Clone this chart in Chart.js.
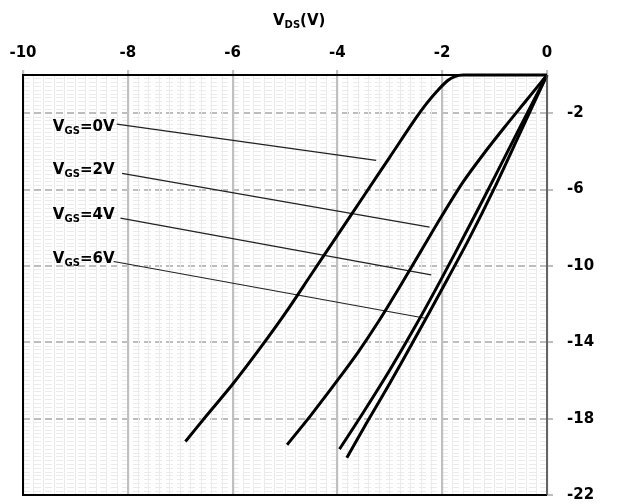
<!DOCTYPE html>
<html>
<head>
<meta charset="utf-8">
<script src="https://cdn.jsdelivr.net/npm/chart.js@4.4.0/dist/chart.umd.min.js"></script>
<style>
  html, body { margin: 0; padding: 0; background: #fff; }
  #wrap { width: 617px; height: 504px; position: relative; }
</style>
</head>
<body>
<div id="wrap"><canvas id="myChart"></canvas></div>
<script>
// curves (VDS, ID)
var vgs0_x = [0, -1.6, -1.75, -1.9, -2.1, -2.3, -2.5, -3.0, -3.5, -4.0, -4.5, -5.0, -5.5, -6.0, -6.5, -6.9];
var vgs0_y = [0, 0, -0.07, -0.3, -0.85, -1.5, -2.25, -4.3, -6.35, -8.4, -10.45, -12.5, -14.4, -16.2, -17.85, -19.2];

var vgs2_x = [0, -0.4, -0.8, -1.2, -1.6, -2.0, -2.4, -2.8, -3.2, -3.6, -4.0, -4.5, -4.96];
var vgs2_y = [0, -1.35, -2.7, -4.1, -5.6, -7.35, -9.2, -11.05, -12.85, -14.5, -16.0, -17.8, -19.37];

var vgs4_x = [0, -0.5, -1.0, -1.5, -2.0, -2.5, -3.0, -3.5, -3.96];
var vgs4_y = [0, -2.65, -5.35, -8.0, -10.6, -13.1, -15.45, -17.65, -19.6];

var vgs6_x = [0, -0.5, -1.0, -1.5, -2.0, -2.5, -3.0, -3.5, -3.82];
var vgs6_y = [0, -2.95, -5.9, -8.65, -11.2, -13.7, -16.15, -18.5, -20.05];

// labels and their leader lines
var labelVals = ['0', '2', '4', '6'];
var labelX = -9.43;
var labelY = [-2.67, -4.92, -7.28, -9.56];
var leaderX0 = [-8.21, -8.11, -8.14, -8.27];
var leaderY0 = [-2.57, -5.15, -7.50, -9.77];
var leaderX1 = [-3.26, -2.24, -2.21, -2.32];
var leaderY1 = [-4.47, -7.97, -10.47, -12.74];

// axis ticks
var xMajor = [-10, -8, -6, -4, -2, 0];
var yMajor = [-2, -6, -10, -14, -18, -22];

var FONT = "'DejaVu Sans', Verdana, sans-serif";

function pts(xs, ys) {
  var out = [];
  for (var i = 0; i < xs.length; i++) out.push({x: xs[i], y: ys[i]});
  return out;
}

var dataset = [];
var curves = [[vgs0_x, vgs0_y], [vgs2_x, vgs2_y], [vgs4_x, vgs4_y], [vgs6_x, vgs6_y]];
for (var c of curves) {
  dataset.push({
    data: pts(c[0], c[1]),
    showLine: true,
    borderColor: '#000',
    borderWidth: 3,
    pointRadius: 0,
    tension: 0.3,
    clip: false
  });
}
for (var i = 0; i < labelVals.length; i++) {
  dataset.push({
    data: [{x: leaderX0[i], y: leaderY0[i]}, {x: leaderX1[i], y: leaderY1[i]}],
    showLine: true,
    borderColor: '#222',
    borderWidth: 1.2,
    pointRadius: 0,
    tension: 0
  });
}

// V + subscript + rest
function subText(ctx, x, yc, main, sub, rest, big, small) {
  var base = yc + big * 0.36;
  ctx.textAlign = 'left';
  ctx.textBaseline = 'alphabetic';
  ctx.fillStyle = '#000';
  ctx.font = 'bold ' + big + 'px ' + FONT;
  ctx.fillText(main, x, base);
  x += ctx.measureText(main).width;
  ctx.font = 'bold ' + small + 'px ' + FONT;
  ctx.fillText(sub, x, base + 3);
  x += ctx.measureText(sub).width;
  ctx.font = 'bold ' + big + 'px ' + FONT;
  ctx.fillText(rest, x, base);
}

var decor = {
  id: 'decor',
  afterDatasetsDraw: function(chart) {
    var ctx = chart.ctx, a = chart.chartArea;
    ctx.save();
    ctx.strokeStyle = '#000';
    ctx.lineWidth = 2;
    ctx.beginPath();
    ctx.moveTo(a.right, a.top); ctx.lineTo(a.left, a.top);
    ctx.lineTo(a.left, a.bottom); ctx.lineTo(a.right, a.bottom);
    ctx.stroke();
    ctx.strokeStyle = '#444';
    ctx.lineWidth = 1.5;
    ctx.beginPath();
    ctx.moveTo(a.right, a.top); ctx.lineTo(a.right, a.bottom);
    ctx.stroke();
    ctx.restore();
  },
  afterDraw: function(chart) {
    var ctx = chart.ctx, sx = chart.scales.x, sy = chart.scales.y;
    ctx.save();
    for (var i = 0; i < labelVals.length; i++) {
      subText(ctx, sx.getPixelForValue(labelX), sy.getPixelForValue(labelY[i]),
        'V', 'GS', '=' + labelVals[i] + 'V', 15, 10);
    }
    // axis title
    subText(ctx, chart.chartArea.left + 250, 20, 'V', 'DS', '(V)', 15, 10);
    ctx.restore();
  }
};

function isMajorX(v) { return xMajor.indexOf(v) >= 0; }
function isMajorY(v) { return yMajor.indexOf(v) >= 0; }

var ctx = document.getElementById('myChart').getContext('2d');
var myChart = new Chart(ctx, {
  type: 'scatter',
  data: { datasets: dataset },
  options: {
    responsive: true,
    maintainAspectRatio: false,
    animation: false,
    layout: { padding: { left: 23, right: 0, top: 0, bottom: 9 } },
    plugins: { legend: { display: false }, tooltip: { enabled: false } },
    scales: {
      x: {
        type: 'linear',
        position: 'top',
        min: -10,
        max: 0,
        afterFit: function(s) { s.height = 75; s.paddingLeft = 0; s.paddingRight = 0; },
        ticks: {
          stepSize: 0.2,
          autoSkip: false,
          maxRotation: 0,
          padding: 8,
          color: '#000',
          font: { family: FONT, size: 15, weight: 'bold' },
          callback: function(v) { return isMajorX(v) ? String(v) : ''; }
        },
        grid: {
          z: -1,
          color: function(c) { return c.tick && isMajorX(c.tick.value) ? '#c0c0c0' : '#ebebeb'; },
          lineWidth: function(c) { return c.tick && isMajorX(c.tick.value) ? 2.2 : 1; },
          tickColor: function(c) { return c.tick && isMajorX(c.tick.value) ? '#c0c0c0' : 'rgba(0,0,0,0)'; },
          tickLength: 5
        },
        border: { display: false }
      },
      y: {
        type: 'linear',
        position: 'right',
        min: -22,
        max: 0,
        afterFit: function(s) { s.width = 70; s.paddingTop = 0; s.paddingBottom = 0; },
        ticks: {
          stepSize: 0.2,
          autoSkip: false,
          padding: 14,
          color: '#000',
          font: { family: FONT, size: 15, weight: 'bold' },
          callback: function(v) { return isMajorY(v) ? String(v) : ''; }
        },
        grid: {
          z: -2,
          color: function(c) { return c.tick && isMajorY(c.tick.value) ? '#bdbdbd' : '#ebebeb'; },
          lineWidth: function(c) { return c.tick && isMajorY(c.tick.value) ? 2 : 1; },
          tickColor: function(c) { return c.tick && isMajorY(c.tick.value) ? '#bdbdbd' : 'rgba(0,0,0,0)'; },
          tickLength: 6
        },
        border: { display: false, dash: [7, 4] }
      }
    }
  },
  plugins: [decor]
});
</script>
</body>
</html>
